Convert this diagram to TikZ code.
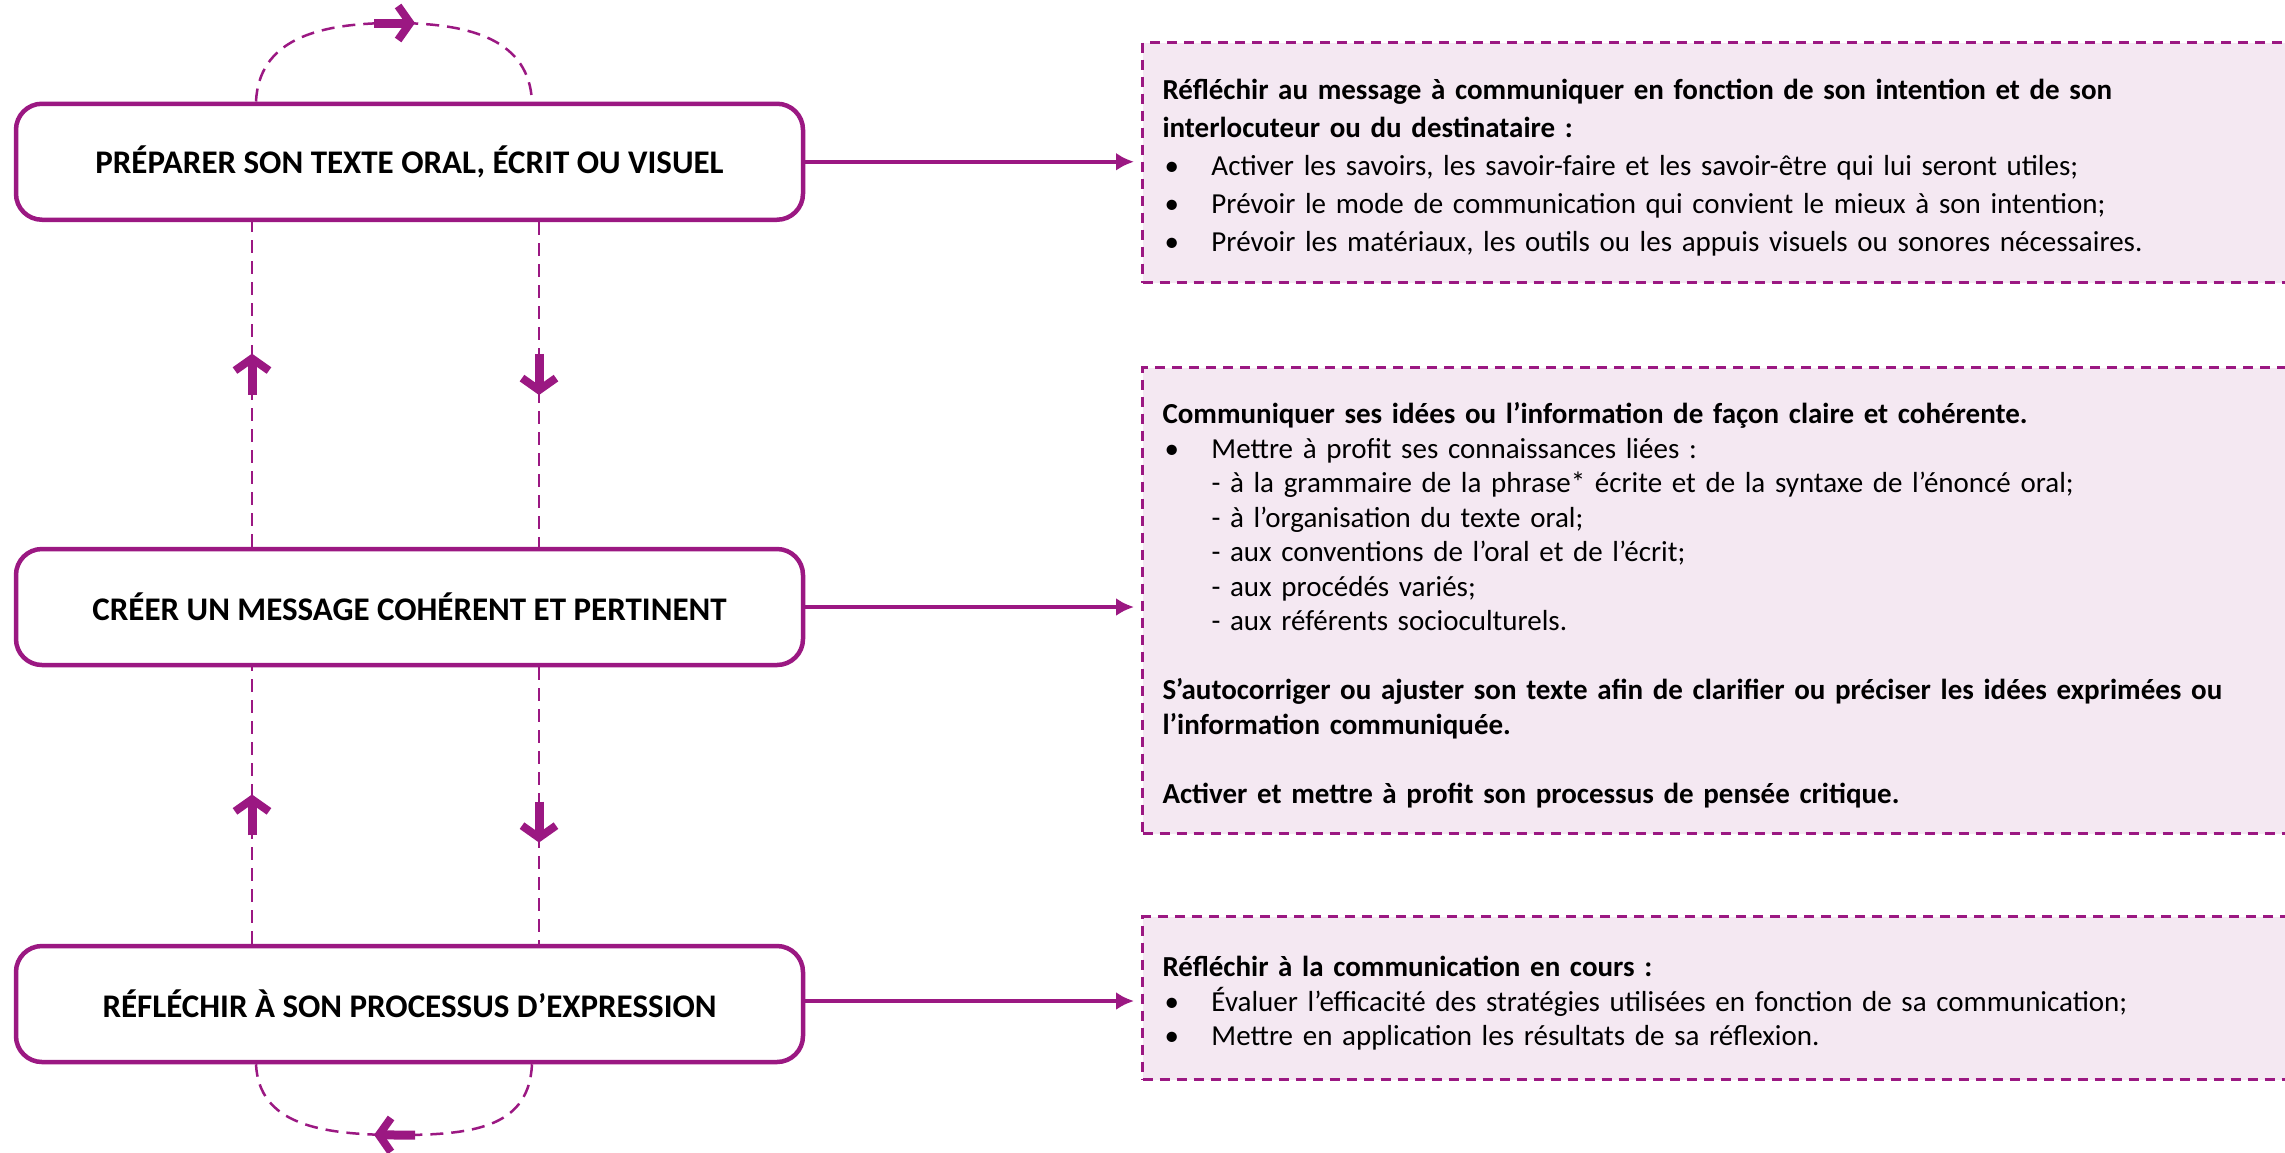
\documentclass[tikz,border=0pt]{standalone}
\usepackage{fontspec}
\setmainfont{Carlito}
\usetikzlibrary{arrows.meta,calc,decorations.markings}
\definecolor{pur}{RGB}{155,24,130}
\definecolor{pinkbg}{RGB}{244,232,242}
\newcommand{\bul}{\makebox[49pt][l]{\hspace{2pt}•}}
\newcommand{\ind}{\hspace*{49pt}}
\newcommand{\topstrut}{\rule{0pt}{31pt}}
\tikzset{
  stage/.style={draw=pur, line width=4.5pt, rounded corners=26pt, fill=white,
    minimum width=787pt, minimum height=116pt, inner sep=0pt,
    font=\fontsize{33}{38}\selectfont\bfseries},
  info/.style={draw=pur, line width=3pt, dash pattern=on 10pt off 7pt, fill=pinkbg,
    anchor=north west, minimum width=1142pt, inner xsep=20pt, inner ysep=0pt,
    text width=1115pt, align=left, font=\fontsize{29}{34.5}\selectfont},
  harrow/.style={draw=pur, line width=3.5pt, -{Latex[length=18pt,width=18pt]}, shorten >=7pt},
  dline/.style={draw=pur, line width=2.5pt, dash pattern=on 13pt off 8pt},
  bigarr/.style={postaction={decorate,decoration={markings,
    mark=at position #1 with {\draw[pur,solid,line width=9pt,
      -{Straight Barb[length=12pt,width=34pt,line width=8pt]}] (-20pt,0) -- (21pt,0);}}}}
}
\begin{document}
\begin{tikzpicture}[x=1pt,y=-1pt]
\useasboundingbox (0,0) rectangle (2285,1152);
\coordinate (xl) at (252,0);
\coordinate (xr) at (539,0);
\coordinate (tl) at (256,0);
\coordinate (tr) at (532,0);
\coordinate (tp) at (394,23);
\coordinate (bp) at (400,1135);

\node[stage] (s1) at (409.5,161.75) {PRÉPARER SON TEXTE ORAL, ÉCRIT OU VISUEL};
\node[stage] (s2) at (409.5,607) {CRÉER UN MESSAGE COHÉRENT ET PERTINENT};
\node[stage] (s3) at (409.5,1004) {RÉFLÉCHIR À SON PROCESSUS D’EXPRESSION};

\node[info, minimum height=240pt, font=\fontsize{29}{38}\selectfont] (iA) at (1141,41) {%
\topstrut\textbf{Réfléchir au message à communiquer en fonction de son intention et de son}\\
\textbf{interlocuteur ou du destinataire :}\\
\bul Activer les savoirs, les savoir-faire et les savoir-être qui lui seront utiles;\\
\bul Prévoir le mode de communication qui convient le mieux à son intention;\\
\bul Prévoir les matériaux, les outils ou les appuis visuels ou sonores nécessaires.};

\node[info, minimum height=466pt] (iB) at (1141,366) {%
\topstrut\textbf{Communiquer ses idées ou l’information de façon claire et cohérente.}\\
\bul Mettre à profit ses connaissances liées :\\
\ind - à la grammaire de la phrase* écrite et de la syntaxe de l’énoncé oral;\\
\ind - à l’organisation du texte oral;\\
\ind - aux conventions de l’oral et de l’écrit;\\
\ind - aux procédés variés;\\
\ind - aux référents socioculturels.\\[34.5pt]
\textbf{S’autocorriger ou ajuster son texte afin de clarifier ou préciser les idées exprimées ou}\\
\textbf{l’information communiquée.}\\[34.5pt]
\textbf{Activer et mettre à profit son processus de pensée critique.}};

\node[info, minimum height=163pt] (iC) at (1141,915) {%
\topstrut\textbf{Réfléchir à la communication en cours :}\\
\bul Évaluer l’efficacité des stratégies utilisées en fonction de sa communication;\\
\bul Mettre en application les résultats de sa réflexion.};

\draw[harrow] (s1.east) -- (s1.east -| iA.west);
\draw[harrow] (s2.east) -- (s2.east -| iB.west);
\draw[harrow] ([yshift=3pt]s3.east) -- ([yshift=3pt]s3.east -| iC.west);

\draw[dline, bigarr=0.53] (s2.north -| xl) -- (s1.south -| xl);
\draw[dline, bigarr=0.464] (s3.north -| xl) -- (s2.south -| xl);
\draw[dline, bigarr=0.468] (s1.south -| xr) -- (s2.north -| xr);
\draw[dline, bigarr=0.558] (s2.south -| xr) -- (s3.north -| xr);

\draw[dline, bigarr=0.5] (s1.north -| tl) .. controls +(3,-60) and +(-80,0) .. (tp)
   .. controls +(80,0) and +(-3,-60) .. (s1.north -| tr);
\draw[dline, bigarr=0.5] (s3.south -| tr) .. controls +(-3,60) and +(80,0) .. (bp)
   .. controls +(-80,0) and +(3,60) .. (s3.south -| tl);
\end{tikzpicture}
\end{document}
